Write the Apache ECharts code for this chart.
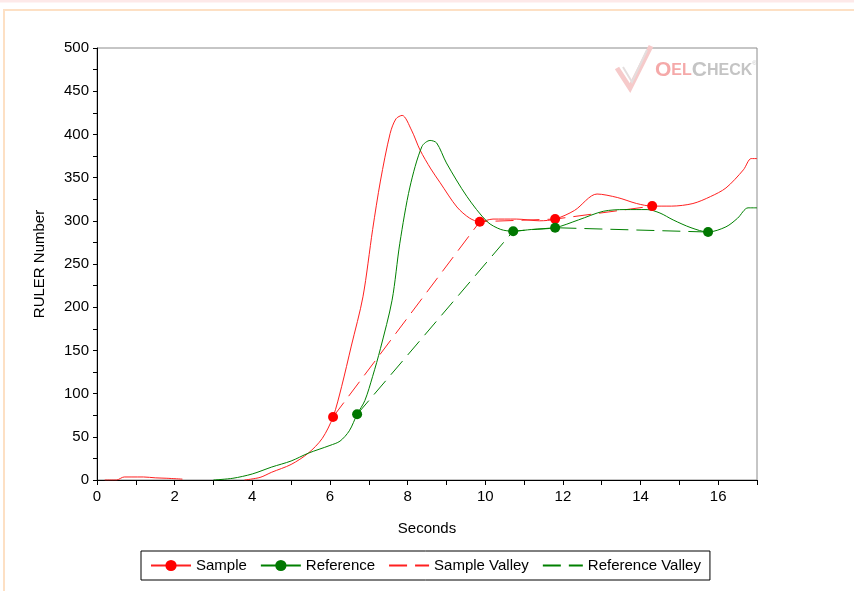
<!DOCTYPE html>
<html><head><meta charset="utf-8">
<script src="https://cdn.jsdelivr.net/npm/echarts@6/dist/echarts.min.js"></script>
<style>html,body{margin:0;padding:0;background:#fff}#c{width:854px;height:591px}</style>
</head><body><div id="c"></div>
<script>
const sampleX = [0.2, 0.5, 0.7, 0.9, 1.2, 1.5, 1.8, 2.2, 2.3, 3.8, 4.2, 4.5, 5.0, 5.44, 5.8, 6.08, 6.3, 6.55, 6.85, 7.1, 7.3, 7.55, 7.7, 7.86, 8.1, 8.32, 8.6, 8.84, 9.27, 9.6, 9.86, 10.2, 10.8, 11.4, 11.8, 12.3, 12.88, 13.4, 13.9, 14.3, 14.8, 15.35, 15.8, 16.2, 16.65, 16.85, 17];
const sampleY = [0, 0, 3.5, 3.5, 3.5, 2.5, 2, 1, null, 0, 3, 9, 18, 31, 48, 73, 108, 155, 212, 290, 346, 401, 418, 422, 405, 382, 360, 344, 316, 303, 299, 302, 302, 300, 302, 312, 331, 327, 320, 317, 317, 320, 328, 338, 359, 372, 372];
const refX = [3.0, 3.5, 4.0, 4.5, 5.0, 5.44, 6.0, 6.26, 6.5, 6.7, 6.9, 7.1, 7.3, 7.6, 7.8, 8.06, 8.37, 8.58, 8.75, 9.0, 9.53, 10.05, 10.4, 10.72, 11.2, 11.8, 12.4, 13.04, 13.6, 14.17, 14.5, 14.84, 15.3, 15.74, 16.2, 16.5, 16.77, 17];
const refY = [0, 2, 7, 15, 22, 31, 40, 45, 57, 76, 92, 120, 152, 208, 274, 339, 386, 393, 390, 367, 328, 299, 290, 288, 290, 292, 301, 311, 313, 313, 309, 301, 292, 287, 293, 303, 315, 315];
const sampleValleyX = [6.08, 9.86, 11.8, 14.3];
const sampleValleyY = [73, 299, 302, 317];
const refValleyX = [6.7, 10.72, 11.8, 15.74];
const refValleyY = [76, 288, 292, 287];
const seriesNames = ['Sample', 'Reference', 'Sample Valley', 'Reference Valley'];

const RED = '#ff2020', GREEN = '#008000';
function curve(xs, ys, valleyXs) {
  return xs.map((x, i) => ({
    value: [x, ys[i] === null ? '-' : ys[i]],
    symbol: valleyXs.includes(x) ? 'circle' : 'none'
  }));
}
function pairs(xs, ys) { return xs.map((x, i) => [x, ys[i]]); }

const chart = echarts.init(document.getElementById('c'), null, {renderer: 'canvas'});
const FONT = 'Liberation Sans Narrow, Liberation Sans, Arial, sans-serif';
const WM = 'Liberation Sans, Arial, sans-serif';
chart.setOption({
  animation: false,
  backgroundColor: '#fff',
  grid: {left: 97, right: 97, top: 48, bottom: 111, show: true, borderColor: '#8c8c8c', borderWidth: 1},
  xAxis: {
    type: 'value', min: 0, max: 17, interval: 2,
    name: 'Seconds', nameLocation: 'middle', nameGap: 41,
    nameTextStyle: {fontFamily: FONT, fontSize: 15, color: '#000'},
    axisLine: {show: true, onZero: false, lineStyle: {color: '#000', width: 1}},
    axisTick: {show: true, length: 5, lineStyle: {color: '#000'}},
    minorTick: {show: true, splitNumber: 2, length: 5, lineStyle: {color: '#000'}},
    splitLine: {show: false},
    axisLabel: {fontFamily: FONT, fontSize: 15, color: '#000', margin: 9, showMaxLabel: false}
  },
  yAxis: {
    type: 'value', min: 0, max: 500, interval: 50,
    name: 'RULER Number', nameLocation: 'middle', nameGap: 50, nameRotate: 90,
    nameTextStyle: {fontFamily: FONT, fontSize: 15, color: '#000'},
    axisLine: {show: true, onZero: false, lineStyle: {color: '#000', width: 1}},
    axisTick: {show: true, length: 4, lineStyle: {color: '#000'}},
    minorTick: {show: true, splitNumber: 2, length: 4, lineStyle: {color: '#000'}},
    splitLine: {show: false},
    axisLabel: {fontFamily: FONT, fontSize: 15, color: '#000', margin: 8}
  },
  legend: {
    data: [
      {name: seriesNames[0]},
      {name: seriesNames[1]},
      {name: seriesNames[2], itemStyle: {opacity: 0}},
      {name: seriesNames[3], itemStyle: {opacity: 0}}
    ],
    left: 141, top: 551,
    borderColor: '#000', borderWidth: 1, borderRadius: 0,
    padding: [7, 9, 7, 9], itemWidth: 40, itemHeight: 14, itemGap: 13,
    textStyle: {fontFamily: 'Liberation Sans, Arial, sans-serif', fontSize: 15, color: '#000'}
  },
  graphic: [
    {type: 'rect', shape: {x: 0, y: 0, width: 854, height: 2.5}, style: {fill: '#fde9e9'}, silent: true},
    {type: 'line', shape: {x1: 3, y1: 10, x2: 854, y2: 10}, style: {stroke: '#fde0c4', lineWidth: 2}, silent: true},
    {type: 'line', shape: {x1: 4, y1: 10, x2: 4, y2: 591}, style: {stroke: '#fde0c4', lineWidth: 2}, silent: true},
    {type: 'polyline', shape: {points: [[617, 68], [630, 88], [651, 46]]}, style: {stroke: '#f6caca', lineWidth: 5, fill: null}, silent: true},
    {type: 'polyline', shape: {points: [[623, 67], [632, 82], [647, 50]]}, style: {stroke: '#e4dede', lineWidth: 2, fill: null}, silent: true},
    {type: 'text', left: 655, top: 60, silent: true,
      style: {text: '{p|O}{ps|EL}{g|C}{gs|HECK}{r|®}',
        rich: {
          p: {fill: '#f5a9a9', fontSize: 21, fontWeight: 'bold', fontFamily: WM},
          ps: {fill: '#f5a9a9', fontSize: 16, fontWeight: 'bold', fontFamily: WM},
          g: {fill: '#c4c4c4', fontSize: 21, fontWeight: 'bold', fontFamily: WM},
          gs: {fill: '#c4c4c4', fontSize: 16, fontWeight: 'bold', fontFamily: WM},
          r: {fill: '#c4c4c4', fontSize: 6, fontFamily: WM, verticalAlign: 'top'}
        }}}
  ],
  series: [
    {name: 'Sample', type: 'line', data: curve(sampleX, sampleY, sampleValleyX), smooth: 0.3,
      symbol: 'circle', symbolSize: 10, showSymbol: true, connectNulls: false, z: 4,
      lineStyle: {color: RED, width: 1}, itemStyle: {color: '#ff0000'}},
    {name: 'Reference', type: 'line', data: curve(refX, refY, refValleyX), smooth: 0.3,
      symbol: 'circle', symbolSize: 10, showSymbol: true, z: 4,
      lineStyle: {color: GREEN, width: 1}, itemStyle: {color: '#007700'}},
    {name: 'Sample Valley', type: 'line', data: pairs(sampleValleyX, sampleValleyY),
      symbol: 'none', z: 3,
      lineStyle: {color: RED, width: 1, type: [18, 8]}, itemStyle: {color: RED}},
    {name: 'Reference Valley', type: 'line', data: pairs(refValleyX, refValleyY),
      symbol: 'none', z: 3,
      lineStyle: {color: GREEN, width: 1, type: [18, 8]}, itemStyle: {color: GREEN}}
  ]
});
</script></body></html>
